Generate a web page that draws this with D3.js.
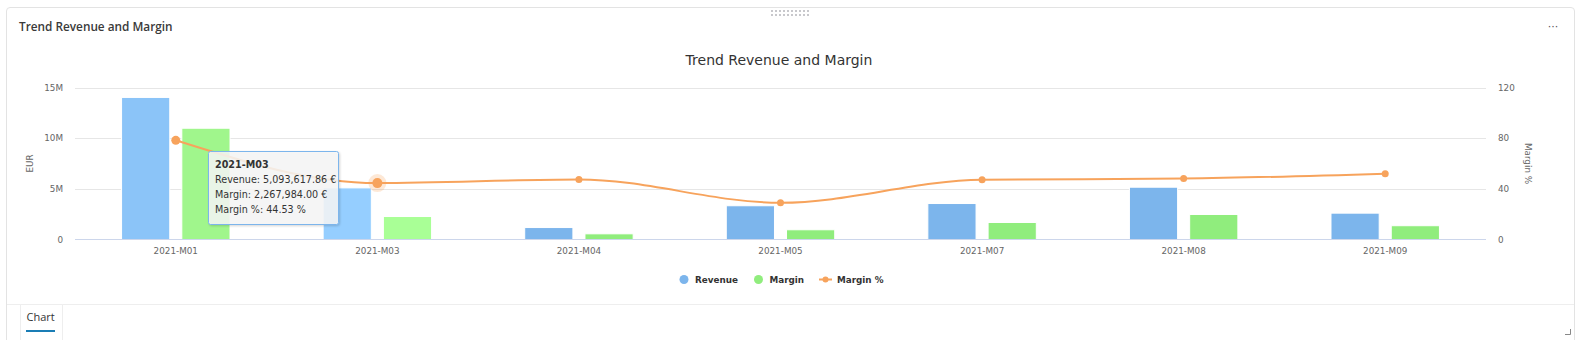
<!DOCTYPE html>
<html>
<head>
<meta charset="utf-8">
<script src="https://cdn.jsdelivr.net/npm/d3@7"></script>
<style>
  html, body { margin: 0; padding: 0; background: #fff; }
  svg { display: block; }
</style>
</head>
<body>
<svg id="chart" width="1582" height="340"></svg>
<script>
// ---- data ----
const categories = ["2021-M01", "2021-M03", "2021-M04", "2021-M05", "2021-M07", "2021-M08", "2021-M09"];
const revenue    = [14020000, 5093617.86, 1180000, 3330000, 3550000, 5160000, 2600000];
const margin     = [10980000, 2267984.00, 560000, 960000, 1680000, 2470000, 1360000];
const marginPct  = [78.3, 44.53, 47.4, 29.0, 47.2, 48.1, 52.0];
const leftTicks  = [0, 5000000, 10000000, 15000000];
const leftTickLabels = ["0", "5M", "10M", "15M"];
const rightTicks = [0, 40, 80, 120];

const hoverIndex = 1;   // category under the pointer (tooltip shown)
const fadeIndex = 0;    // category still fading out of hover state

const svg = d3.select("#chart");
const FONT = "'DejaVu Sans', sans-serif";

// ---- card frame ----
const defs = svg.append("defs");
const sh = defs.append("filter").attr("id", "shadow").attr("x", "-10%").attr("y", "-10%").attr("width", "130%").attr("height", "140%");
sh.append("feDropShadow").attr("dx", 1).attr("dy", 1).attr("stdDeviation", 1.2).attr("flood-color", "#000").attr("flood-opacity", 0.18);

svg.append("path")
  .attr("d", "M6.5,345 L6.5,11 Q6.5,7.5 10,7.5 L1571,7.5 Q1574.5,7.5 1574.5,11 L1574.5,345")
  .attr("fill", "#fff").attr("stroke", "#e3e3e3");

// drag handle dots
const dots = [];
for (let r = 0; r < 2; r++) for (let c = 0; c < 10; c++) dots.push([772 + c * 4, 11 + r * 4]);
svg.append("g").selectAll("rect").data(dots).join("rect")
  .attr("x", d => d[0] - 1).attr("y", d => d[1] - 1).attr("width", 2).attr("height", 2)
  .attr("fill", "#c8c8cc");

svg.append("text").attr("x", 19).attr("y", 31)
  .attr("font-family", "'Open Sans', sans-serif").attr("font-weight", 600).attr("font-size", 11.8)
  .attr("fill", "#3a3a3a").text("Trend Revenue and Margin");
svg.append("text").attr("x", 1553).attr("y", 30).attr("text-anchor", "middle")
  .attr("font-family", FONT).attr("font-size", 11).attr("fill", "#555").text("···");

// tab strip
svg.append("line").attr("x1", 7).attr("x2", 1574).attr("y1", 304.5).attr("y2", 304.5).attr("stroke", "#eeeeee");
svg.append("path").attr("d", "M20.5,340 L20.5,304.5 L62.5,304.5 L62.5,340").attr("fill", "#fff").attr("stroke", "#eeeeee");
svg.append("text").attr("x", 26.5).attr("y", 321)
  .attr("font-family", "'Open Sans', sans-serif").attr("font-size", 11).attr("fill", "#333").text("Chart");
svg.append("rect").attr("x", 26).attr("y", 330).attr("width", 29).attr("height", 2).attr("fill", "#1a7db5");
svg.append("path").attr("d", "M1565,334.5 L1570.5,334.5 L1570.5,329").attr("fill", "none").attr("stroke", "#888");

// ---- chart ----
const plotLeft = 75, plotRight = 1486, plotTop = 87.5, plotBottom = 239.5;

const x0 = d3.scaleBand().domain(categories).range([plotLeft, plotRight]).paddingInner(0).paddingOuter(0);
const bw = x0.bandwidth();
const x1 = d3.scaleBand().domain(["rev", "mar"]).range([bw * 0.231, bw * 0.769]).paddingInner(0.2);
const yL = d3.scaleLinear().domain([0, 15000000]).range([plotBottom, plotTop]);
const yR = d3.scaleLinear().domain([0, 120]).range([plotBottom, plotTop]);

svg.append("text").attr("x", 779).attr("y", 65).attr("text-anchor", "middle")
  .attr("font-family", FONT).attr("font-size", 14).attr("fill", "#333").text("Trend Revenue and Margin");

// grid
svg.append("g").selectAll("line").data(leftTicks.filter(d => d > 0)).join("line")
  .attr("x1", plotLeft).attr("x2", plotRight)
  .attr("y1", d => Math.round(yL(d)) + 0.5).attr("y2", d => Math.round(yL(d)) + 0.5)
  .attr("stroke", "#e6e6e6");

// left axis
const gL = svg.append("g").attr("transform", `translate(${plotLeft - 12},0)`)
  .call(d3.axisLeft(yL).tickValues(leftTicks).tickFormat((d, i) => leftTickLabels[i]).tickSize(0).tickPadding(0));
gL.select(".domain").remove();
gL.selectAll("text").attr("font-family", FONT).attr("font-size", 8.8).attr("fill", "#666").attr("dy", "0.32em");

// right axis
const gR = svg.append("g").attr("transform", `translate(${plotRight + 12},0)`)
  .call(d3.axisRight(yR).tickValues(rightTicks).tickSize(0).tickPadding(0));
gR.select(".domain").remove();
gR.selectAll("text").attr("font-family", FONT).attr("font-size", 8.8).attr("fill", "#666").attr("dy", "0.32em");

svg.append("text").attr("transform", `translate(33,${(plotTop + plotBottom) / 2}) rotate(-90)`).attr("text-anchor", "middle")
  .attr("font-family", FONT).attr("font-size", 8.8).attr("fill", "#666").text("EUR");
svg.append("text").attr("transform", `translate(1525,${(plotTop + plotBottom) / 2}) rotate(90)`).attr("text-anchor", "middle")
  .attr("font-family", FONT).attr("font-size", 8.8).attr("fill", "#666").text("Margin %");

// bars
const revColor = "#7cb5ec", marColor = "#90ed7d";
const revHover = "#95ceff", marHover = "#a9ff96";
const revFade = "#8bc4f8", marFade = "#a0f68c";
const barG = svg.append("g");
barG.selectAll("rect.rev").data(revenue).join("rect").attr("class", "rev")
  .attr("x", (d, i) => x0(categories[i]) + x1("rev")).attr("width", x1.bandwidth())
  .attr("y", d => yL(d)).attr("height", d => plotBottom - yL(d))
  .attr("fill", (d, i) => i === hoverIndex ? revHover : i === fadeIndex ? revFade : revColor)
  .attr("stroke", "#fff").attr("stroke-width", 1);
barG.selectAll("rect.mar").data(margin).join("rect").attr("class", "mar")
  .attr("x", (d, i) => x0(categories[i]) + x1("mar")).attr("width", x1.bandwidth())
  .attr("y", d => yL(d)).attr("height", d => plotBottom - yL(d))
  .attr("fill", (d, i) => i === hoverIndex ? marHover : i === fadeIndex ? marFade : marColor)
  .attr("stroke", "#fff").attr("stroke-width", 1);

// x axis
svg.append("line").attr("x1", plotLeft).attr("x2", plotRight).attr("y1", plotBottom).attr("y2", plotBottom).attr("stroke", "#ccd6eb");
const gX = svg.append("g").attr("transform", `translate(0,${plotBottom})`)
  .call(d3.axisBottom(x0).tickSize(0).tickPadding(8));
gX.select(".domain").remove();
gX.selectAll("text").attr("font-family", FONT).attr("font-size", 8.8).attr("fill", "#666").attr("dy", "0.71em");

// margin % line
const cx = i => x0(categories[i]) + bw / 2;
const line = d3.line().x((d, i) => cx(i)).y(d => yR(d)).curve(d3.curveMonotoneX);
const lineColor = "#f7a35c";
svg.append("path").datum(marginPct).attr("d", line)
  .attr("fill", "none").attr("stroke", lineColor).attr("stroke-width", 2);
svg.append("circle").attr("cx", cx(hoverIndex)).attr("cy", yR(marginPct[hoverIndex])).attr("r", 9)
  .attr("fill", lineColor).attr("opacity", 0.25);
svg.append("g").selectAll("circle").data(marginPct).join("circle")
  .attr("cx", (d, i) => cx(i)).attr("cy", d => yR(d))
  .attr("r", (d, i) => i === hoverIndex ? 5 : i === fadeIndex ? 4.5 : 3.5)
  .attr("fill", lineColor);

// legend
const lg = svg.append("g").attr("font-family", FONT).attr("font-size", 8.8).attr("font-weight", "bold").attr("fill", "#333");
lg.append("circle").attr("cx", 684).attr("cy", 279.5).attr("r", 4.5).attr("fill", revColor);
lg.append("text").attr("x", 695).attr("y", 283).text("Revenue");
lg.append("circle").attr("cx", 758.5).attr("cy", 279.5).attr("r", 4.5).attr("fill", marColor);
lg.append("text").attr("x", 769.5).attr("y", 283).text("Margin");
lg.append("line").attr("x1", 819).attr("x2", 832).attr("y1", 279.5).attr("y2", 279.5).attr("stroke", lineColor).attr("stroke-width", 2);
lg.append("circle").attr("cx", 825.5).attr("cy", 279.5).attr("r", 3).attr("fill", lineColor);
lg.append("text").attr("x", 837).attr("y", 283).text("Margin %");

// tooltip
const fmt = d3.format(",.2f");
const tip = svg.append("g").attr("transform", "translate(208.5,151.5)");
tip.append("rect").attr("width", 130).attr("height", 73).attr("rx", 2)
  .attr("fill", "rgba(247,247,247,0.85)").attr("stroke", revColor).attr("filter", "url(#shadow)");
const tt = tip.append("text").attr("font-family", FONT).attr("font-size", 9.6).attr("fill", "#333");
tt.append("tspan").attr("x", 6.5).attr("y", 16).attr("font-weight", "bold").text(categories[hoverIndex]);
tt.append("tspan").attr("x", 6.5).attr("y", 31).text(`Revenue: ${fmt(revenue[hoverIndex])} €`);
tt.append("tspan").attr("x", 6.5).attr("y", 46).text(`Margin: ${fmt(margin[hoverIndex])} €`);
tt.append("tspan").attr("x", 6.5).attr("y", 61).text(`Margin %: ${d3.format(".2f")(marginPct[hoverIndex])} %`);
</script>
</body>
</html>
